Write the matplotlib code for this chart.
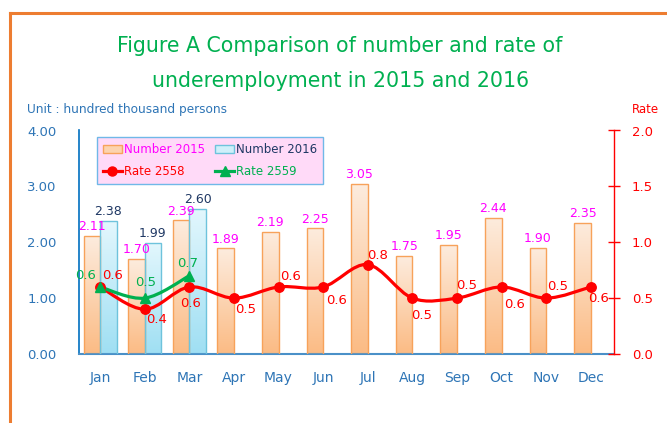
import numpy as np
import matplotlib
matplotlib.use("Agg")
import matplotlib.pyplot as plt
from matplotlib.path import Path
from matplotlib.patches import PathPatch, Rectangle
from matplotlib.lines import Line2D
from matplotlib.colors import LinearSegmentedColormap

months = ["Jan", "Feb", "Mar", "Apr", "May", "Jun", "Jul", "Aug", "Sep", "Oct", "Nov", "Dec"]
number_2015 = [2.11, 1.70, 2.39, 1.89, 2.19, 2.25, 3.05, 1.75, 1.95, 2.44, 1.90, 2.35]
number_2016 = [2.38, 1.99, 2.60]
rate_2558 = [0.6, 0.4, 0.6, 0.5, 0.6, 0.6, 0.8, 0.5, 0.5, 0.6, 0.5, 0.6]
rate_2559 = [0.6, 0.5, 0.7]
left_ticks = [0, 1, 2, 3, 4]
right_ticks = [0.0, 0.5, 1.0, 1.5, 2.0]

# label offsets in pixels (style only)
red_off = [(12, 11), (12, -10), (1, -17), (12, -11), (12, 10), (13, -14),
           (10, 9), (9, -17), (10, 13), (13, -18), (11, 12), (8, -12)]
green_off = [(-15, 11), (1, 16), (-2, 12)]

plt.rcParams['font.family'] = ['DejaVu Sans']

W, H = 667, 423
fig = plt.figure(figsize=(W / 100, H / 100), dpi=100)
fig.patch.set_facecolor("white")

ax = fig.add_axes([78.7 / W, 1 - 354 / H, (614 - 78.7) / W, (354 - 130.5) / H])
ax2 = ax.twinx()

x = np.arange(len(months))
bw = 0.37

c15_top, c15_bot, c15_edge = "#FDECDE", "#FBBB84", "#F7A25A"
c16_top, c16_bot, c16_edge = "#E3F7FD", "#9FDFF3", "#6EC3DC"
cmap15 = LinearSegmentedColormap.from_list("c15", [c15_bot, c15_top])
cmap16 = LinearSegmentedColormap.from_list("c16", [c16_bot, c16_top])
grad = np.linspace(0, 1, 256).reshape(-1, 1)

bars15 = ax.bar(x - bw / 2, number_2015, bw, facecolor="none", edgecolor=c15_edge, linewidth=1.0, zorder=3)
bars16 = ax.bar(x[:len(number_2016)] + bw / 2, number_2016, bw, facecolor="none", edgecolor=c16_edge, linewidth=1.0, zorder=3)

for bars, cm in ((bars15, cmap15), (bars16, cmap16)):
    for b in bars:
        x0, y0 = b.get_x(), b.get_y()
        w, h = b.get_width(), b.get_height()
        im = ax.imshow(grad, extent=[x0, x0 + w, y0, y0 + h], origin="lower",
                       aspect="auto", cmap=cm, zorder=2, interpolation="bilinear")
        im.set_clip_path(b)

for b, v in zip(bars15, number_2015):
    ax.annotate(f"{v:.2f}", (b.get_x() + b.get_width() / 2, v), xytext=(0, 2),
                textcoords="offset points", ha="center", va="bottom",
                color="#FF00FF", fontsize=9, zorder=5)
for b, v in zip(bars16, number_2016):
    ax.annotate(f"{v:.2f}", (b.get_x() + b.get_width() / 2, v), xytext=(0, 2),
                textcoords="offset points", ha="center", va="bottom",
                color="#1F3864", fontsize=9, zorder=5)

ax.set_xlim(-0.48, 11.52)
ax.set_ylim(0, 4)
ax.set_yticks(left_ticks)
ax.set_yticklabels([f"{t:.2f}" for t in left_ticks])
ax.set_xticks(x)
ax.set_xticklabels(months)
ax.tick_params(axis="y", length=0, pad=16, labelsize=9.5, labelcolor="#2E75B6")
ax.tick_params(axis="x", length=0, pad=12, labelsize=10, labelcolor="#2E75B6")
for s in ("top", "right"):
    ax.spines[s].set_visible(False)
ax.spines["left"].set_color("#0070C0")
ax.spines["bottom"].set_color("#4A90C8")
ax.spines["left"].set_linewidth(1.2)
ax.spines["bottom"].set_linewidth(1.5)


def smooth_path(xs, ys):
    xs = np.asarray(xs, float)
    ys = np.asarray(ys, float)
    n = len(xs)
    verts = [(xs[0], ys[0])]
    codes = [Path.MOVETO]
    for i in range(n - 1):
        p0 = (xs[max(i - 1, 0)], ys[max(i - 1, 0)])
        p1 = (xs[i], ys[i])
        p2 = (xs[i + 1], ys[i + 1])
        p3 = (xs[min(i + 2, n - 1)], ys[min(i + 2, n - 1)])
        c1 = (p1[0] + (p2[0] - p0[0]) / 6, p1[1] + (p2[1] - p0[1]) / 6)
        c2 = (p2[0] - (p3[0] - p1[0]) / 6, p2[1] - (p3[1] - p1[1]) / 6)
        verts += [c1, c2, p2]
        codes += [Path.CURVE4] * 3
    return Path(verts, codes)


red, green = "#FF0000", "#00B050"
ax2.add_patch(PathPatch(smooth_path(x, rate_2558), facecolor="none", edgecolor=red, lw=2.3, zorder=3))
ax2.plot(x, rate_2558, "o", color=red, ms=6.8, zorder=4)
xg = x[:len(rate_2559)]
ax2.add_patch(PathPatch(smooth_path(xg, rate_2559), facecolor="none", edgecolor=green, lw=2.3, zorder=3))
ax2.plot(xg, rate_2559, "^", color=green, ms=7, zorder=4)

for xi, v, (dx, dy) in zip(x, rate_2558, red_off):
    ax2.annotate(f"{v:.1f}", (xi, v), xytext=(dx * 0.72, dy * 0.72), textcoords="offset points",
                 ha="center", va="center", color=red, fontsize=9.5, zorder=6)
for xi, v, (dx, dy) in zip(xg, rate_2559, green_off):
    ax2.annotate(f"{v:.1f}", (xi, v), xytext=(dx * 0.72, dy * 0.72), textcoords="offset points",
                 ha="center", va="center", color=green, fontsize=9.5, zorder=6)

ax2.set_ylim(0, 2)
ax2.set_yticks(right_ticks)
ax2.set_yticklabels([f"{t:.1f}" for t in right_ticks])
ax2.tick_params(axis="y", direction="inout", length=9, width=1, color=red,
                pad=8.5, labelsize=9.5, labelcolor=red)
for s in ("top", "left", "bottom"):
    ax2.spines[s].set_visible(False)
ax2.spines["right"].set_color(red)
ax2.spines["right"].set_linewidth(1.0)
ax.set_xlim(-0.48, 11.52)

# legend
h15 = Rectangle((0, 0), 1, 1, facecolor="#FCD3AE", edgecolor=c15_edge, lw=1)
h16 = Rectangle((0, 0), 1, 1, facecolor="#CFF0FA", edgecolor=c16_edge, lw=1)
hr = Line2D([], [], color=red, marker="o", ms=6.5, lw=2.3)
hg = Line2D([], [], color=green, marker="^", ms=6.5, lw=2.3)
leg = ax2.legend([h15, hr, h16, hg], ["Number 2015", "Rate 2558", "Number 2016", "Rate 2559"],
                 ncol=2, loc="upper left", bbox_to_anchor=((97 - 78.7) / (614 - 78.7), (354 - 137.5) / (354 - 130.5)),
                 fontsize=8.5, frameon=True, fancybox=False, handlelength=1.6, handletextpad=0.15,
                 columnspacing=0.9, borderpad=0.5, labelspacing=0.7, borderaxespad=0)
leg.get_frame().set_facecolor("#FFDAF8")
leg.get_frame().set_edgecolor("#70B8E8")
leg.get_frame().set_linewidth(1.0)
leg.get_frame().set_alpha(1)
for t, c in zip(leg.get_texts(), ["#FF00FF", red, "#1F3864", green]):
    t.set_color(c)
leg.set_zorder(10)

# titles and unit labels
fig.text(340 / W, 1 - 46 / H, "Figure A Comparison of number and rate of", ha="center", va="center",
         color="#00B050", fontsize=14.8)
fig.text(340 / W, 1 - 81 / H, "underemployment in 2015 and 2016", ha="center", va="center",
         color="#00B050", fontsize=14.8)
fig.text(27 / W, 1 - 110 / H, "Unit : hundred thousand persons", ha="left", va="center",
         color="#2E75B6", fontsize=8.7)
fig.text(632 / W, 1 - 109 / H, "Rate", ha="left", va="center", color=red, fontsize=8.5)

# orange frame
fig.add_artist(Line2D([9.5 / W, 9.5 / W], [0, 1 - 13.5 / H], color="#ED7D31", lw=2.2, transform=fig.transFigure))
fig.add_artist(Line2D([9.5 / W, 1.0], [1 - 13.5 / H, 1 - 13.5 / H], color="#ED7D31", lw=2.2, transform=fig.transFigure))

fig.savefig("out.png", dpi=100)
